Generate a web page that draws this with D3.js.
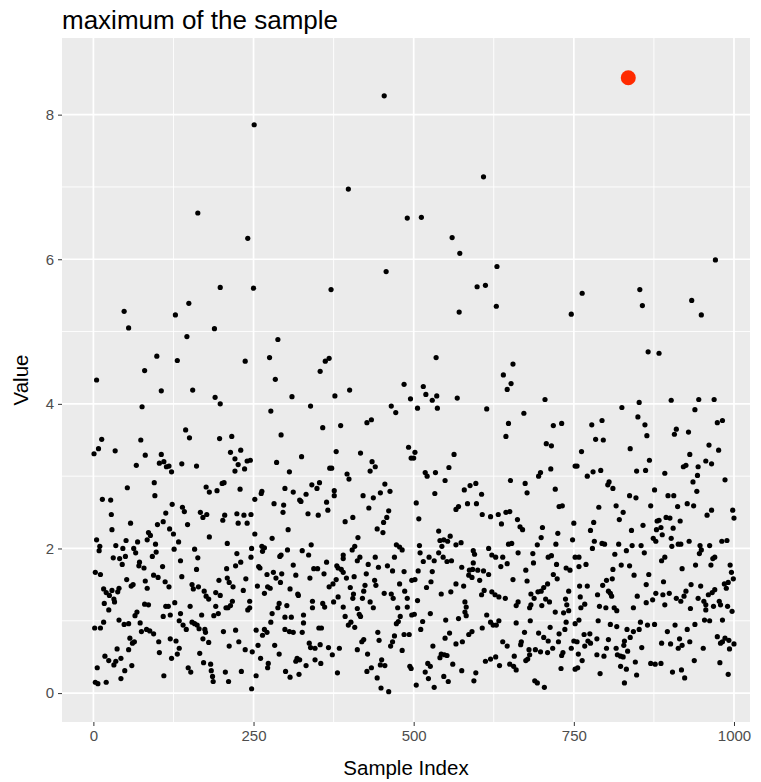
<!DOCTYPE html>
<html>
<head>
<meta charset="utf-8">
<script src="https://cdn.jsdelivr.net/npm/d3@7"></script>
<style>
  body { margin: 0; background: #fff; }
  svg { display: block; font-family: "Liberation Sans", Arial, sans-serif; }
</style>
</head>
<body>
<svg id="chart" width="761" height="782"></svg>
<script>
// sample points [index, value]
const samplePoints = [
  // 0 - 115, lower part
  [76,3.96],[13,3.51],[74,3.50],[8,3.38],[1,3.31],[34,3.35],[81,3.29],[106,3.30],[103,3.18],[110,3.20],[67,3.15],[114,3.13],
  [95,2.91],[53,2.84],[96,2.73],[14,2.68],[27,2.67],[28,2.47],[113,2.49],[58,2.35],[100,2.33],[109,2.37],[29,2.26],[86,2.22],
  [89,2.18],[84,2.12],[5,2.12],[10,2.03],[9,1.97],[51,2.11],[69,2.09],[97,2.06],[35,2.04],[46,2.00],[63,2.00],[66,1.94],
  [98,1.95],[50,1.89],[92,1.89],[31,1.87],[41,1.86],[45,1.78],[72,1.81],[71,1.76],[79,1.73],[108,1.75],[3,1.67],[11,1.64],
  [94,1.63],[101,1.60],[52,1.57],[81,1.55],[62,1.50],[59,1.48],[112,1.54],[84,1.45],[16,1.44],[29,1.42],[40,1.45],[20,1.39],
  [25,1.35],[38,1.40],[32,1.30],[33,1.26],[17,1.24],[80,1.23],[86,1.22],[24,1.15],[113,1.20],[68,1.12],[65,1.07],[109,1.06],
  [16,0.98],[40,1.01],[48,0.95],[55,0.96],[2,0.90],[11,0.90],[73,0.97],[75,0.85],[83,0.88],[88,0.86],[94,0.82],[57,0.76],
  [64,0.71],[61,0.69],[102,0.71],[37,0.61],[55,0.60],[103,0.56],[18,0.51],[24,0.45],[35,0.44],[32,0.39],[43,0.48],[60,0.38],
  [6,0.35],[49,0.31],[43,0.20],[110,0.24],[3,0.15],[7,0.13],[20,0.15],
  // upper part, values above 4
  [163,6.64],[241,6.29],[198,5.61],[48,5.28],[55,5.05],[149,5.39],[128,5.23],[189,5.04],[146,4.93],[99,4.66],[131,4.60],
  [237,4.59],[80,4.46],[5,4.33],[106,4.18],[155,4.19],[190,4.09],
  [454,8.26],[251,7.86],[398,6.97],[490,6.57],[457,5.83],[250,5.60],[371,5.58],[288,4.89],[275,4.64],[368,4.63],[362,4.59],
  [354,4.45],[284,4.34],[485,4.27],[400,4.19],[310,4.10],[377,4.11],[495,4.07],
  [609,7.14],[512,6.58],[560,6.30],[572,6.08],[630,5.90],[599,5.62],[612,5.64],[629,5.35],[571,5.27],[746,5.24],[535,4.64],
  [655,4.55],[640,4.40],[652,4.28],[646,4.20],[515,4.24],[519,4.13],[536,4.11],[568,4.08],[705,4.06],[529,4.05],
  [971,5.99],[763,5.53],[853,5.58],[857,5.36],[934,5.43],[949,5.23],[866,4.72],[883,4.70],[902,4.05],[945,4.06],[969,4.06],
  // 115 - 243
  [198,4.00],[144,3.64],[150,3.53],[197,3.52],[216,3.55],[214,3.33],[230,3.36],[221,3.24],[226,3.16],[240,3.21],[236,3.10],
  [221,3.07],[138,3.17],[161,3.14],[118,3.14],[122,3.06],[176,2.85],[181,2.78],[193,2.80],[201,2.90],[204,2.91],[229,2.82],
  [123,2.61],[139,2.57],[142,2.51],[167,2.50],[171,2.43],[177,2.47],[205,2.46],[202,2.39],[224,2.48],[235,2.46],[226,2.35],
  [240,2.35],[147,2.33],[119,2.27],[125,2.20],[181,2.16],[133,2.09],[126,1.99],[209,2.07],[158,1.99],[163,1.87],[224,1.93],
  [136,1.83],[230,1.81],[222,1.76],[161,1.71],[208,1.72],[138,1.61],[209,1.59],[196,1.56],[238,1.58],[212,1.53],[218,1.47],
  [154,1.50],[156,1.44],[164,1.47],[173,1.41],[118,1.47],[191,1.39],[198,1.35],[176,1.34],[180,1.30],[234,1.42],[127,1.25],
  [117,1.20],[151,1.20],[191,1.20],[217,1.27],[214,1.21],[210,1.18],[207,1.18],[136,1.10],[120,1.08],[169,1.08],[188,1.07],
  [195,1.10],[241,1.15],[134,1.00],[154,0.98],[158,0.96],[162,0.94],[140,0.94],[145,0.88],[165,0.89],[174,0.88],[175,0.84],
  [203,0.85],[222,0.87],[120,0.75],[129,0.72],[180,0.70],[171,0.75],[227,0.71],[212,0.65],[134,0.62],[237,0.60],[131,0.54],
  [122,0.48],[166,0.55],[172,0.42],[183,0.40],[148,0.35],[152,0.29],[184,0.31],[186,0.23],[206,0.29],[231,0.30],[187,0.16],
  [211,0.16],
  // 243 - 371
  [277,3.90],[339,3.97],[358,3.67],[293,3.57],[325,3.27],[245,3.22],[286,3.19],[369,3.11],[306,3.06],[263,2.79],[262,2.76],
  [299,2.83],[312,2.78],[322,2.67],[324,2.65],[332,2.75],[341,2.88],[349,2.83],[353,2.91],[252,2.68],[282,2.62],[297,2.60],
  [296,2.50],[364,2.64],[366,2.53],[335,2.48],[351,2.46],[246,2.47],[304,2.26],[252,2.20],[279,2.14],[263,2.03],[267,2.01],
  [264,1.96],[247,2.00],[246,1.88],[303,1.98],[326,1.97],[340,2.05],[336,1.91],[293,1.91],[291,1.89],[364,1.81],[258,1.75],
  [260,1.73],[312,1.77],[281,1.67],[294,1.65],[271,1.64],[316,1.63],[344,1.72],[350,1.72],[360,1.65],[338,1.59],[285,1.59],
  [292,1.53],[256,1.48],[272,1.47],[276,1.45],[267,1.38],[307,1.44],[319,1.37],[320,1.35],[368,1.47],[244,1.27],[244,1.18],
  [290,1.24],[302,1.21],[288,1.18],[342,1.27],[342,1.18],[358,1.24],[361,1.19],[279,1.10],[328,1.08],[299,1.05],[309,1.05],
  [277,0.98],[328,0.97],[254,0.87],[267,0.88],[271,0.84],[264,0.80],[299,0.88],[306,0.85],[312,0.84],[326,0.84],[352,0.90],
  [356,0.90],[257,0.66],[248,0.57],[283,0.66],[337,0.69],[339,0.63],[354,0.67],[346,0.62],[367,0.63],[261,0.48],[290,0.54],
  [318,0.48],[322,0.46],[316,0.44],[346,0.46],[332,0.38],[355,0.41],[273,0.41],[272,0.35],[300,0.30],[321,0.26],[307,0.22],
  [254,0.24],[247,0.06],
  // 371 - 499
  [465,3.97],[472,3.88],[386,3.70],[427,3.74],[434,3.78],[379,3.34],[417,3.32],[492,3.40],[496,3.25],[435,3.20],[440,3.13],
  [432,3.07],[396,3.03],[399,2.96],[372,3.11],[376,2.80],[376,2.73],[455,2.89],[448,2.77],[463,2.79],[421,2.73],[437,2.70],
  [430,2.56],[461,2.52],[458,2.43],[453,2.36],[405,2.43],[393,2.37],[443,2.27],[452,2.22],[413,2.15],[408,2.03],[404,1.98],
  [473,2.05],[478,2.02],[482,1.98],[390,1.91],[390,1.86],[416,1.88],[412,1.83],[440,1.88],[470,1.88],[380,1.76],[382,1.73],
  [387,1.71],[390,1.67],[429,1.78],[445,1.74],[459,1.76],[467,1.69],[485,1.68],[426,1.65],[379,1.57],[374,1.51],[395,1.59],
  [407,1.61],[439,1.56],[441,1.49],[478,1.51],[401,1.46],[424,1.49],[497,1.56],[406,1.37],[422,1.41],[454,1.38],[465,1.37],
  [468,1.31],[486,1.41],[490,1.31],[382,1.33],[405,1.31],[420,1.31],[432,1.26],[437,1.18],[375,1.26],[490,1.19],[475,1.18],
  [390,1.19],[412,1.17],[415,1.09],[417,1.06],[393,1.06],[479,1.06],[497,1.08],[476,0.99],[473,0.96],[402,0.98],[398,0.94],
  [408,0.91],[444,0.84],[485,0.81],[493,0.81],[422,0.74],[419,0.71],[446,0.73],[470,0.79],[467,0.71],[464,0.65],[384,0.62],
  [373,0.53],[412,0.60],[482,0.59],[428,0.54],[450,0.46],[448,0.39],[455,0.38],[494,0.37],[496,0.34],[381,0.28],[434,0.35],
  [427,0.30],[443,0.21],[449,0.07],[461,0.02],
  // 499 - 627
  [506,3.94],[537,3.94],[614,3.93],[502,3.33],[500,3.25],[563,3.30],[555,3.12],[518,3.05],[521,3.00],[534,3.05],[549,2.94],
  [533,2.76],[579,2.81],[588,2.87],[597,2.90],[606,2.75],[504,2.63],[508,2.41],[584,2.62],[598,2.62],[566,2.54],[570,2.58],
  [607,2.47],[620,2.44],[539,2.24],[541,2.11],[547,2.12],[553,2.10],[557,2.17],[544,2.03],[566,2.05],[574,2.08],[509,2.04],
  [510,1.94],[539,1.94],[524,1.88],[515,1.82],[532,1.83],[546,1.88],[552,1.82],[559,1.83],[593,1.97],[595,1.92],[617,2.00],
  [622,1.91],[593,1.80],[575,1.74],[587,1.70],[592,1.71],[600,1.70],[609,1.69],[617,1.64],[507,1.69],[529,1.68],[586,1.63],
  [591,1.60],[603,1.56],[502,1.57],[527,1.54],[520,1.46],[566,1.51],[578,1.48],[610,1.42],[606,1.36],[622,1.40],[543,1.37],
  [558,1.40],[506,1.28],[580,1.26],[582,1.19],[580,1.12],[582,1.07],[501,1.09],[526,1.10],[570,1.03],[550,1.01],[614,1.08],
  [620,0.98],[514,0.99],[511,0.88],[624,0.94],[591,0.85],[586,0.81],[556,0.83],[549,0.76],[607,0.90],[576,0.71],[566,0.68],
  [530,0.65],[543,0.54],[548,0.53],[552,0.52],[541,0.49],[561,0.40],[612,0.44],[620,0.47],[522,0.41],[526,0.37],[518,0.29],
  [575,0.31],[597,0.28],[547,0.23],[554,0.16],[523,0.20],[594,0.17],[504,0.11],[532,0.08],
  // 627 - 755
  [672,3.87],[648,3.73],[718,3.70],[731,3.73],[644,3.55],[707,3.45],[715,3.42],[714,3.10],[752,3.14],[698,3.05],[695,3.00],
  [651,2.94],[674,2.90],[677,2.77],[721,2.82],[732,2.59],[727,2.58],[632,2.47],[644,2.50],[650,2.51],[637,2.34],[662,2.40],
  [666,2.30],[670,2.26],[701,2.29],[699,2.15],[725,2.21],[750,2.35],[648,2.06],[653,2.07],[693,2.05],[722,2.06],[748,2.12],
  [628,1.88],[639,1.88],[663,1.94],[686,1.93],[710,1.88],[715,1.90],[752,1.88],[636,1.75],[646,1.79],[687,1.80],[723,1.78],
  [675,1.70],[738,1.73],[744,1.70],[718,1.64],[724,1.58],[655,1.57],[677,1.55],[709,1.51],[703,1.46],[699,1.41],[694,1.40],
  [683,1.37],[742,1.41],[627,1.36],[633,1.33],[643,1.31],[688,1.31],[706,1.30],[737,1.30],[712,1.26],[663,1.26],[660,1.21],
  [683,1.22],[700,1.21],[739,1.22],[742,1.14],[721,1.12],[734,1.11],[681,1.18],[633,1.00],[629,0.94],[660,0.97],[682,1.00],
  [738,0.98],[752,0.96],[713,0.91],[673,0.84],[695,0.83],[703,0.77],[727,0.82],[710,0.72],[726,0.71],[736,0.88],[639,0.71],
  [646,0.65],[668,0.71],[667,0.67],[750,0.72],[746,0.62],[680,0.60],[690,0.60],[698,0.57],[709,0.56],[717,0.62],[733,0.56],
  [731,0.52],[681,0.53],[678,0.47],[628,0.50],[657,0.51],[675,0.45],[634,0.38],[650,0.40],[656,0.37],[660,0.32],[730,0.34],
  [752,0.33],[689,0.17],[693,0.14],[704,0.08],
  // 755 - 883
  [852,4.02],[825,3.95],[850,3.82],[861,3.71],[864,3.56],[778,3.71],[794,3.77],[784,3.51],[796,3.50],[838,3.38],[762,3.34],
  [755,3.14],[868,3.22],[771,3.00],[780,3.06],[792,3.08],[848,3.07],[862,3.08],[805,2.92],[803,2.88],[811,2.83],[837,2.73],
  [847,2.70],[876,2.81],[789,2.57],[816,2.59],[827,2.50],[870,2.59],[821,2.40],[781,2.36],[776,2.25],[840,2.25],[858,2.32],
  [880,2.38],[879,2.26],[874,2.14],[878,2.10],[782,2.10],[779,2.00],[794,2.07],[798,2.06],[820,2.06],[841,2.04],[855,2.04],
  [832,1.97],[860,1.94],[814,1.92],[758,1.88],[758,1.75],[769,1.78],[824,1.77],[837,1.76],[811,1.71],[844,1.63],[867,1.64],
  [810,1.58],[801,1.56],[795,1.49],[759,1.48],[771,1.48],[804,1.41],[807,1.38],[809,1.34],[787,1.36],[760,1.33],[863,1.50],
  [878,1.38],[873,1.29],[849,1.34],[863,1.25],[767,1.23],[761,1.18],[790,1.20],[800,1.18],[813,1.18],[817,1.14],[843,1.18],
  [758,1.01],[788,1.00],[807,0.95],[817,0.92],[854,0.98],[865,0.94],[876,0.95],[833,0.88],[843,0.85],[852,0.88],[838,0.77],
  [829,0.72],[804,0.74],[786,0.75],[766,0.81],[775,0.82],[772,0.72],[776,0.69],[767,0.65],[755,0.71],[801,0.62],[816,0.62],
  [828,0.66],[856,0.63],[834,0.58],[757,0.54],[786,0.53],[797,0.51],[818,0.53],[823,0.51],[827,0.50],[763,0.45],[846,0.43],
  [870,0.41],[877,0.40],[756,0.35],[823,0.37],[832,0.33],[848,0.25],[791,0.27],[829,0.14],
  // 883 - 1000
  [939,3.92],[974,3.74],[982,3.77],[910,3.65],[907,3.58],[929,3.61],[961,3.43],[976,3.36],[931,3.30],[956,3.21],[965,3.17],
  [925,3.15],[921,3.13],[944,3.13],[892,3.04],[943,3.01],[936,2.92],[986,2.95],[942,2.79],[897,2.73],[906,2.73],[912,2.58],
  [927,2.62],[937,2.59],[965,2.53],[958,2.46],[998,2.53],[1000,2.42],[883,2.39],[894,2.43],[900,2.42],[916,2.38],[886,2.29],
  [905,2.28],[888,2.19],[902,2.14],[903,2.03],[913,2.06],[917,2.06],[930,2.10],[947,2.04],[962,2.04],[981,2.10],[989,2.11],
  [949,1.98],[946,1.93],[970,1.88],[967,1.86],[887,1.83],[892,1.88],[940,1.77],[964,1.77],[994,1.77],[919,1.72],[996,1.67],
  [999,1.58],[985,1.51],[991,1.53],[988,1.45],[890,1.54],[933,1.50],[948,1.48],[970,1.43],[966,1.39],[925,1.41],[922,1.34],
  [889,1.36],[899,1.38],[910,1.31],[917,1.27],[944,1.31],[953,1.27],[960,1.36],[956,1.22],[977,1.27],[979,1.22],[968,1.20],
  [990,1.20],[997,1.13],[892,1.22],[932,1.17],[956,1.15],[954,1.01],[962,1.00],[982,1.01],[908,0.94],[939,0.95],[927,0.88],
  [896,0.85],[887,0.69],[901,0.68],[915,0.75],[913,0.62],[919,0.66],[931,0.71],[952,0.62],[974,0.78],[982,0.71],[986,0.76],
  [992,0.73],[993,0.61],[1000,0.68],[979,0.69],[886,0.41],[938,0.45],[978,0.42],[904,0.29],[918,0.32],[923,0.21],[991,0.26]
];

// the maximum, drawn in red
const maxPoint = [835, 8.51];

const xTicks = [0, 250, 500, 750, 1000];
const yTicks = [0, 2, 4, 6, 8];
const xMinor = [125, 375, 625, 875];
const yMinor = [1, 3, 5, 7];

const titleText = "maximum of the sample";
const xLabel = "Sample Index";
const yLabel = "Value";

const svg = d3.select("#chart");
const panel = { left: 62, top: 38, width: 688, height: 684 };

const x = d3.scaleLinear().domain([-49, 1025]).range([0, panel.width]);
const y = d3.scaleLinear().domain([-0.40, 9.06]).range([panel.height, 0]);

const g = svg.append("g")
  .attr("transform", `translate(${panel.left},${panel.top})`);

// panel background
g.append("rect")
  .attr("width", panel.width)
  .attr("height", panel.height)
  .attr("fill", "#ebebeb");

// minor grid
g.selectAll(".vminor").data(xMinor).enter().append("line")
  .attr("x1", d => x(d)).attr("x2", d => x(d))
  .attr("y1", 0).attr("y2", panel.height)
  .attr("stroke", "#fff").attr("stroke-width", 0.9);
g.selectAll(".hminor").data(yMinor).enter().append("line")
  .attr("y1", d => y(d)).attr("y2", d => y(d))
  .attr("x1", 0).attr("x2", panel.width)
  .attr("stroke", "#fff").attr("stroke-width", 0.9);

// major grid
g.selectAll(".vmajor").data(xTicks).enter().append("line")
  .attr("x1", d => x(d)).attr("x2", d => x(d))
  .attr("y1", 0).attr("y2", panel.height)
  .attr("stroke", "#fff").attr("stroke-width", 1.7);
g.selectAll(".hmajor").data(yTicks).enter().append("line")
  .attr("y1", d => y(d)).attr("y2", d => y(d))
  .attr("x1", 0).attr("x2", panel.width)
  .attr("stroke", "#fff").attr("stroke-width", 1.7);

// points
g.selectAll(".pt").data(samplePoints).enter().append("circle")
  .attr("cx", d => x(d[0]))
  .attr("cy", d => y(d[1]))
  .attr("r", 2.6)
  .attr("fill", "#000");

g.append("circle")
  .attr("cx", x(maxPoint[0]))
  .attr("cy", y(maxPoint[1]))
  .attr("r", 7.5)
  .attr("fill", "#ff2a00");

// axes
const xAxis = g.append("g")
  .attr("transform", `translate(0,${panel.height})`)
  .call(d3.axisBottom(x).tickValues(xTicks).tickSize(4).tickPadding(4).tickFormat(d3.format("d")));
const yAxis = g.append("g")
  .call(d3.axisLeft(y).tickValues(yTicks).tickSize(4).tickPadding(4).tickFormat(d3.format("d")));

[xAxis, yAxis].forEach(ax => {
  ax.select(".domain").remove();
  ax.selectAll(".tick line").attr("stroke", "#333").attr("stroke-width", 1);
  ax.selectAll(".tick text")
    .attr("fill", "#4d4d4d")
    .style("font-size", "15px")
    .style("font-family", "Liberation Sans, Arial, sans-serif");
});

// labels
svg.append("text")
  .attr("x", panel.left)
  .attr("y", 29)
  .attr("fill", "#000")
  .style("font-size", "26px")
  .text(titleText);

svg.append("text")
  .attr("x", panel.left + panel.width / 2)
  .attr("y", 775)
  .attr("text-anchor", "middle")
  .attr("fill", "#000")
  .style("font-size", "20.5px")
  .text(xLabel);

svg.append("text")
  .attr("transform", `translate(28,${panel.top + panel.height / 2}) rotate(-90)`)
  .attr("text-anchor", "middle")
  .attr("fill", "#000")
  .style("font-size", "20.5px")
  .text(yLabel);
</script>
</body>
</html>
